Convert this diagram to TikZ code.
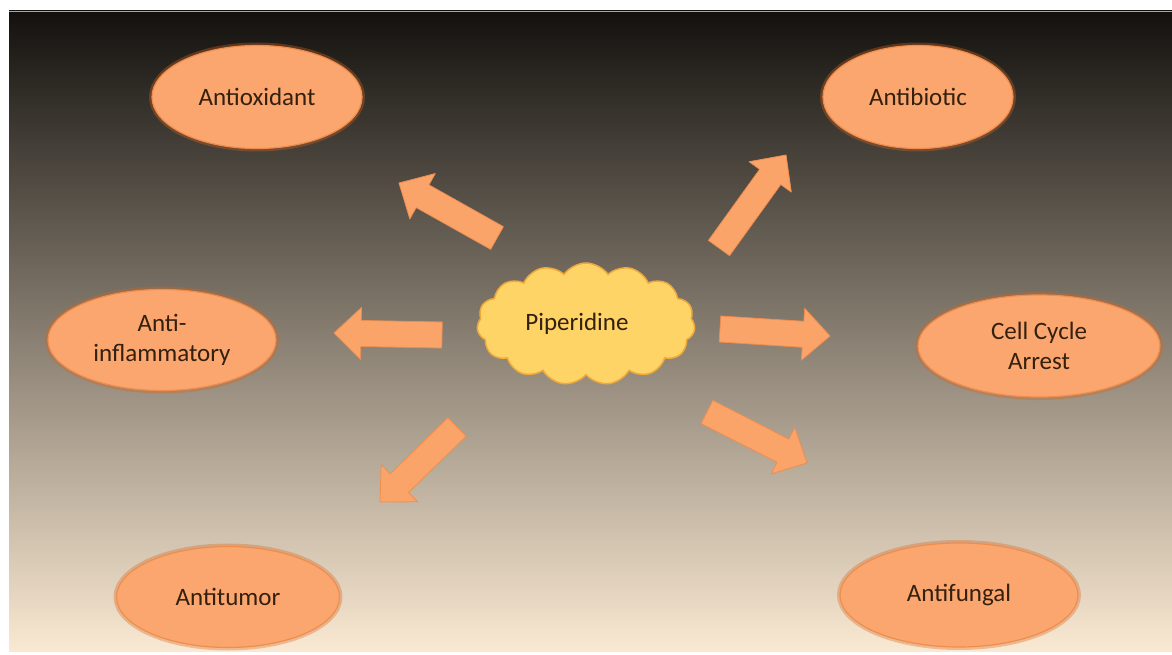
\documentclass[tikz,border=0pt]{standalone}
\usepackage{fontspec}
\setmainfont{Carlito}
\usetikzlibrary{shapes.geometric,shapes.symbols,calc}
\definecolor{bgtop}{HTML}{13110E}
\definecolor{bgbot}{HTML}{FAE9D2}
\definecolor{ovfill}{HTML}{FBA66E}
\definecolor{ovedge}{HTML}{EE8E4E}
\definecolor{glow}{HTML}{D8651E}
\definecolor{arfill}{HTML}{FBA46A}
\definecolor{cloudfill}{HTML}{FFD466}
\definecolor{cloudedge}{HTML}{EFA93A}
\definecolor{txt}{HTML}{33200F}
\newcommand\blockarr[2]{%
  \coordinate (#2-b) at ($(#2)!27pt!(#1)$);
  \path[blk] ($(#1)!13pt!90:(#2)$) -- ($(#2-b)!13pt!-90:(#1)$) -- ($(#2-b)!26pt!-90:(#1)$) -- (#2) -- ($(#2-b)!26pt!90:(#1)$) -- ($(#2-b)!13pt!90:(#1)$) -- ($(#1)!13pt!-90:(#2)$) -- cycle;}
\begin{document}
\begin{tikzpicture}[x=1pt,y=-1pt,
  oval/.style={ellipse, fill=ovfill, draw=ovedge, line width=1.2pt,
    preaction={draw=glow, draw opacity=0.35, line width=6pt},
    inner sep=0pt, font=\fontsize{25}{30}\selectfont, text=txt, align=center},
  blk/.style={fill=arfill, draw=ovedge, line width=0.8pt, line join=round},
  puff/.style={cloud, cloud puffs=15, cloud puff arc=110, aspect=1.8,
    fill=cloudfill, draw=cloudedge, line width=1.5pt, inner sep=0pt,
    font=\fontsize{25}{30}\selectfont, text=txt}]
\useasboundingbox (0,0) rectangle (1172,655);
\fill[white] (0,0) rectangle (1172,655);
\shade[top color=bgtop, bottom color=bgbot] (9,11) rectangle (1172,651);
\draw[gray!70, line width=0.8pt] (9,11) -- (1172,11);

\node[oval, minimum width=210pt, minimum height=103pt] (aox) at (257,97) {Antioxidant};
\node[oval, minimum width=190pt, minimum height=103pt] (abio) at (918,97) {Antibiotic};
\node[oval, minimum width=228pt, minimum height=101pt] (ainf) at (162,340) {Anti-\\inflammatory};
\node[oval, minimum width=242pt, minimum height=102pt] (cca) at (1039,346) {Cell Cycle\\Arrest};
\node[oval, minimum width=223pt, minimum height=101pt] (atum) at (228,597) {Antitumor};
\node[oval, minimum width=238pt, minimum height=104pt] (afun) at (959,595) {Antifungal};

\node[puff, minimum width=218pt, minimum height=122pt] (pip) at (586,324) {\hspace*{-18pt}Piperidine};

\coordinate (t1) at (497,238); \coordinate (p1) at (399,183);
\coordinate (t2) at (442,335); \coordinate (p2) at (334,333);
\coordinate (t3) at (457,427); \coordinate (p3) at (380,502);
\coordinate (t4) at (719,248); \coordinate (p4) at (786,155);
\coordinate (t5) at (720,329); \coordinate (p5) at (830,336);
\coordinate (t6) at (707,412); \coordinate (p6) at (807,463);
\blockarr{t1}{p1}
\blockarr{t2}{p2}
\blockarr{t3}{p3}
\blockarr{t4}{p4}
\blockarr{t5}{p5}
\blockarr{t6}{p6}
\end{tikzpicture}
\end{document}
